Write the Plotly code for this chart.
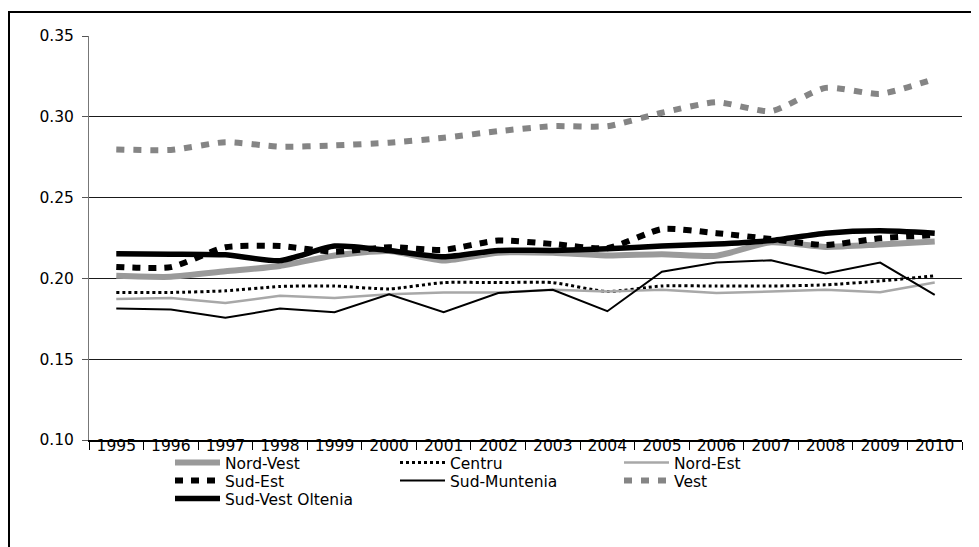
import plotly.graph_objects as go

years = [str(y) for y in range(1995, 2011)]

nord_vest = [0.2016, 0.2010, 0.2044, 0.2077, 0.2142, 0.2170, 0.2110, 0.2159, 0.2159, 0.2142, 0.2150, 0.2140, 0.2224, 0.2195, 0.2210, 0.2228]
centru = [0.1913, 0.1913, 0.1923, 0.1950, 0.1953, 0.1935, 0.1974, 0.1974, 0.1974, 0.1919, 0.1953, 0.1953, 0.1953, 0.1960, 0.1984, 0.2016]
nord_est = [0.1872, 0.1878, 0.1848, 0.1892, 0.1878, 0.1902, 0.1913, 0.1913, 0.1930, 0.1919, 0.1930, 0.1910, 0.1919, 0.1930, 0.1915, 0.1974]
sud_est = [0.2071, 0.2070, 0.2193, 0.2200, 0.2165, 0.2193, 0.2177, 0.2234, 0.2213, 0.2187, 0.2305, 0.2280, 0.2244, 0.2207, 0.2248, 0.2268]
sud_muntenia = [0.1813, 0.1808, 0.1756, 0.1813, 0.1791, 0.1902, 0.1791, 0.1910, 0.1930, 0.1797, 0.2041, 0.2098, 0.2112, 0.2030, 0.2098, 0.1898]
vest = [0.2798, 0.2795, 0.2843, 0.2815, 0.2823, 0.2840, 0.2870, 0.2911, 0.2942, 0.2942, 0.3025, 0.3090, 0.3035, 0.3179, 0.3142, 0.3235]
sud_vest_oltenia = [0.2152, 0.2150, 0.2146, 0.2110, 0.2200, 0.2173, 0.2134, 0.2173, 0.2173, 0.2183, 0.2200, 0.2213, 0.2234, 0.2280, 0.2295, 0.2280]

y_ticks = [0.10, 0.15, 0.20, 0.25, 0.30, 0.35]

# page body has an 8px margin: work in picture pixels, shift by OFF
OFF = 8
W, H = 979 - OFF, 547 - OFF
PLOT_L, PLOT_R, PLOT_T, PLOT_B = 89, 962, 36, 440  # picture pixels
L, T = PLOT_L - OFF, PLOT_T - OFF
R = W - (PLOT_R - OFF)
B = H - (PLOT_B - OFF)
PW, PH = W - L - R, H - T - B

def px_x(p):
    return (p - OFF - L) / PW

def px_y(p):
    return (H - B - (p - OFF)) / PH

FONT = "DejaVu Sans, Verdana, sans-serif"
FS = 15.5

series = [
    ("Nord-Vest", nord_vest, dict(color="#9a9a9a", width=6), "spline", "legend", (170, 463)),
    ("Centru", centru, dict(color="#000000", width=3, dash="3px,3px"), "spline", "legend2", (395, 463)),
    ("Nord-Est", nord_est, dict(color="#a8a8a8", width=2.5), "linear", "legend3", (619, 463)),
    ("Sud-Est", sud_est, dict(color="#000000", width=6, dash="8px,8px"), "spline", "legend4", (170, 481)),
    ("Sud-Muntenia", sud_muntenia, dict(color="#000000", width=2), "linear", "legend5", (395, 481)),
    ("Vest", vest, dict(color="#858585", width=6, dash="8px,9px"), "spline", "legend6", (619, 481)),
    ("Sud-Vest Oltenia", sud_vest_oltenia, dict(color="#000000", width=5.5), "spline", "legend7", (170, 499)),
]

fig = go.Figure()
legends = {}
for name, vals, line, shape, lg, (lx, ly) in series:
    line = dict(line)
    line["shape"] = shape
    if shape == "spline":
        line["smoothing"] = 0.6
    fig.add_trace(go.Scatter(x=years, y=vals, name=name, mode="lines", line=line, legend=lg))
    legends[lg] = dict(
        x=px_x(lx), y=px_y(ly), xanchor="left", yanchor="middle",
        bgcolor="rgba(0,0,0,0)", borderwidth=0, itemwidth=45,
        font=dict(family=FONT, size=FS, color="#000"),
        itemclick=False, itemdoubleclick=False,
    )

fig.update_layout(
    width=W, height=H,
    margin=dict(l=L, r=R, t=T, b=B),
    paper_bgcolor="white", plot_bgcolor="white",
    showlegend=True,
    **legends,
    xaxis=dict(
        type="category", range=[-0.5, 15.5],
        tickson="boundaries", ticks="outside", ticklen=8, tickcolor="#000", tickwidth=1,
        ticklabelstandoff=-9,
        showline=True, linecolor="#000", linewidth=1.5,
        showgrid=False,
        tickfont=dict(family=FONT, size=FS, color="#000"),
    ),
    yaxis=dict(
        range=[0.10, 0.35], tickvals=y_ticks, tickformat=".2f",
        ticks="outside", ticklen=6, tickcolor="#555", tickwidth=1,
        ticklabelstandoff=5,
        showline=True, linecolor="#777", linewidth=1,
        showgrid=True, gridcolor="#1a1a1a", gridwidth=1.2,
        zeroline=False,
        tickfont=dict(family=FONT, size=FS, color="#000"),
    ),
    shapes=[dict(type="rect", xref="paper", yref="paper",
                 x0=px_x(9), x1=px_x(975), y0=px_y(560), y1=px_y(12),
                 line=dict(color="#000", width=2), fillcolor="rgba(0,0,0,0)", layer="below")],
)

fig.write_html("out.html")
